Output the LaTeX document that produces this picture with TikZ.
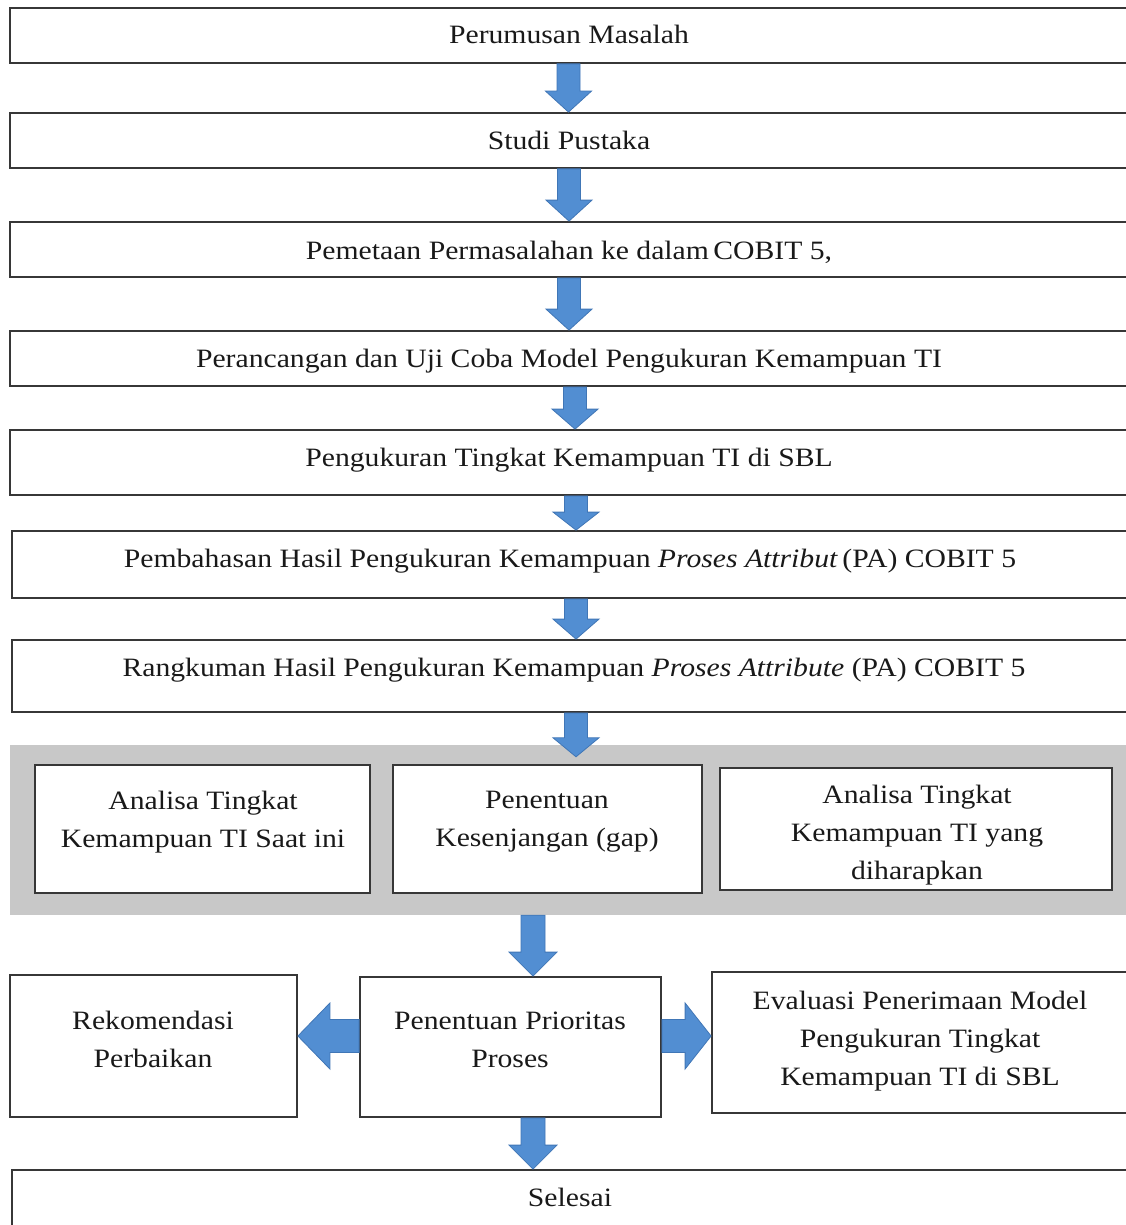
\documentclass[tikz,border=0pt]{standalone}
\usepackage{fontspec}
\setmainfont{Liberation Serif}[FakeStretch=1.12]
\usetikzlibrary{calc}
\definecolor{arrowblue}{RGB}{82,142,210}
\definecolor{arrowedge}{RGB}{64,118,182}
\definecolor{boxline}{RGB}{55,55,55}
\definecolor{panelgray}{RGB}{200,200,200}
\definecolor{txtcol}{RGB}{25,25,25}
% #1 from, #2 to, #3 half shaft width, #4 half head width, #5 head length
\newcommand\fatarr[5]{%
  \coordinate (fah) at ($#2!#5!#1$);
  \filldraw[fill=arrowblue,draw=arrowedge,line width=0.8pt,line join=miter]
    ($#1!#3!90:#2$) -- ($(fah)!#3!-90:#1$) -- ($(fah)!#4!-90:#1$) -- #2
    -- ($(fah)!#4!90:#1$) -- ($(fah)!#3!90:#1$) -- ($#1!#3!-90:#2$) -- cycle;
}
\begin{document}
\begin{tikzpicture}[x=1pt,y=-1pt,
  box/.style 2 args={draw=boxline,line width=1.8pt,fill=white,inner sep=0pt,
    minimum width=#1,minimum height=#2},
  txt/.style={font=\fontsize{26.5}{38}\selectfont,align=center,inner sep=0pt,text=txtcol},
  stxt/.style={txt,text height=18pt,text depth=0pt}]
\path[use as bounding box] (0,0) rectangle (1126,1225);
\clip (0,0) rectangle (1126,1225);
\fill[white] (0,0) rectangle (1126,1225);

% top chain
\node[box={1120pt}{55pt}] (b1) at (570,35.5) {};
\node[stxt] (t1) at (569,35) {Perumusan Masalah};
\node[box={1120pt}{55pt}] (b2) at (570,140.5) {};
\node[stxt] (t2) at (569,141) {Studi Pustaka};
\node[box={1120pt}{55pt}] (b3) at (570,249.5) {};
\node[stxt] (t3) at (569,250) {Pemetaan Permasalahan ke dalam\,COBIT 5,};
\node[box={1120pt}{55pt}] (b4) at (570,358.5) {};
\node[stxt] (t4) at (569,358) {Perancangan dan Uji Coba Model Pengukuran Kemampuan TI};
\node[box={1120pt}{65pt}] (b5) at (570,462.5) {};
\node[stxt] (t5) at (569,457) {Pengukuran Tingkat Kemampuan TI di SBL};
\node[box={1118pt}{67pt}] (b6) at (571,564.5) {};
\node[stxt] (t6) at (570,558) {Pembahasan Hasil Pengukuran Kemampuan \textit{Proses Attribut}\,(PA) COBIT 5};
\node[box={1118pt}{72pt}] (b7) at (571,676) {};
\node[stxt] (t7) at (574,667) {Rangkuman Hasil Pengukuran Kemampuan \textit{Proses Attribute} (PA) COBIT 5};

% grey panel
\node[fill=panelgray,inner sep=0pt,minimum width=1120pt,minimum height=170pt] (panel) at (570,830) {};
\node[box={335pt}{128pt}] (A) at (202.5,829) {};
\node[txt] (tA) at (203,822) {Analisa Tingkat\\Kemampuan TI Saat ini};
\node[box={309pt}{128pt}] (B) at (547.5,829) {};
\node[txt] (tB) at (547,822) {Penentuan\\Kesenjangan (gap)};
\node[box={392pt}{122pt}] (C) at (916,829) {};
\node[txt] (tC) at (917,835) {Analisa Tingkat\\Kemampuan TI yang\\diharapkan};

% bottom row
\node[box={287pt}{142pt}] (R) at (153.5,1046) {};
\node[txt] (tR) at (153,1039) {Rekomendasi\\Perbaikan};
\node[box={301pt}{140pt}] (P) at (510.5,1047) {};
\node[txt] (tP) at (510,1040) {Penentuan Prioritas\\Proses};
\node[box={418pt}{141pt}] (E) at (921,1042.5) {};
\node[txt] (tE) at (920,1041) {Evaluasi Penerimaan Model\\Pengukuran Tingkat\\Kemampuan TI di SBL};
\node[box={1118pt}{70pt}] (S) at (571,1205) {};
\node[stxt] (tS) at (570,1197) {Selesai};

% arrow end points
\coordinate (a1s) at ([xshift=-1.5pt]b1.south);
\coordinate (a1e) at ([xshift=-1.5pt]b2.north);
\coordinate (a2s) at ([xshift=-1pt]b2.south);
\coordinate (a2e) at ([xshift=-1pt]b3.north);
\coordinate (a3s) at ([xshift=-1pt]b3.south);
\coordinate (a3e) at ([xshift=-1pt]b4.north);
\coordinate (a4s) at ([xshift=5pt]b4.south);
\coordinate (a4e) at ([xshift=5pt]b5.north);
\coordinate (a5s) at ([xshift=6pt]b5.south);
\coordinate (a5e) at ([xshift=5pt]b6.north);
\coordinate (a6s) at ([xshift=5pt]b6.south);
\coordinate (a6e) at ([xshift=5pt]b7.north);
\coordinate (a7s) at ([xshift=5pt]b7.south);
\coordinate (a7e) at ([xshift=6pt,yshift=-12pt]panel.north);
\coordinate (a8s) at ([xshift=-37pt]panel.south);
\coordinate (a8e) at ([xshift=22.5pt]P.north);
\coordinate (a9s) at ([xshift=22.5pt]P.south);
\coordinate (a9e) at ([xshift=-38pt]S.north);
\coordinate (aLs) at ([yshift=11pt]P.west);
\coordinate (aLe) at ([yshift=10pt]R.east);
\coordinate (aRs) at ([yshift=11pt]P.east);
\coordinate (aRe) at ([yshift=6.5pt]E.west);

% fat arrows
\fatarr{(a1s)}{(a1e)}{11.5pt}{23pt}{21pt}
\fatarr{(a2s)}{(a2e)}{11.5pt}{23pt}{21pt}
\fatarr{(a3s)}{(a3e)}{11.5pt}{23pt}{21pt}
\fatarr{(a4s)}{(a4e)}{11.5pt}{23pt}{20pt}
\fatarr{(a5s)}{(a5e)}{11.5pt}{23pt}{18pt}
\fatarr{(a6s)}{(a6e)}{11.5pt}{23pt}{20pt}
\fatarr{(a7s)}{(a7e)}{11.5pt}{23pt}{19pt}
\fatarr{(a8s)}{(a8e)}{12pt}{24pt}{24pt}
\fatarr{(a9s)}{(a9e)}{12pt}{24pt}{24pt}
\fatarr{(aLs)}{(aLe)}{16.5pt}{33pt}{32pt}
\fatarr{(aRs)}{(aRe)}{16.5pt}{33pt}{26pt}
\end{tikzpicture}
\end{document}
